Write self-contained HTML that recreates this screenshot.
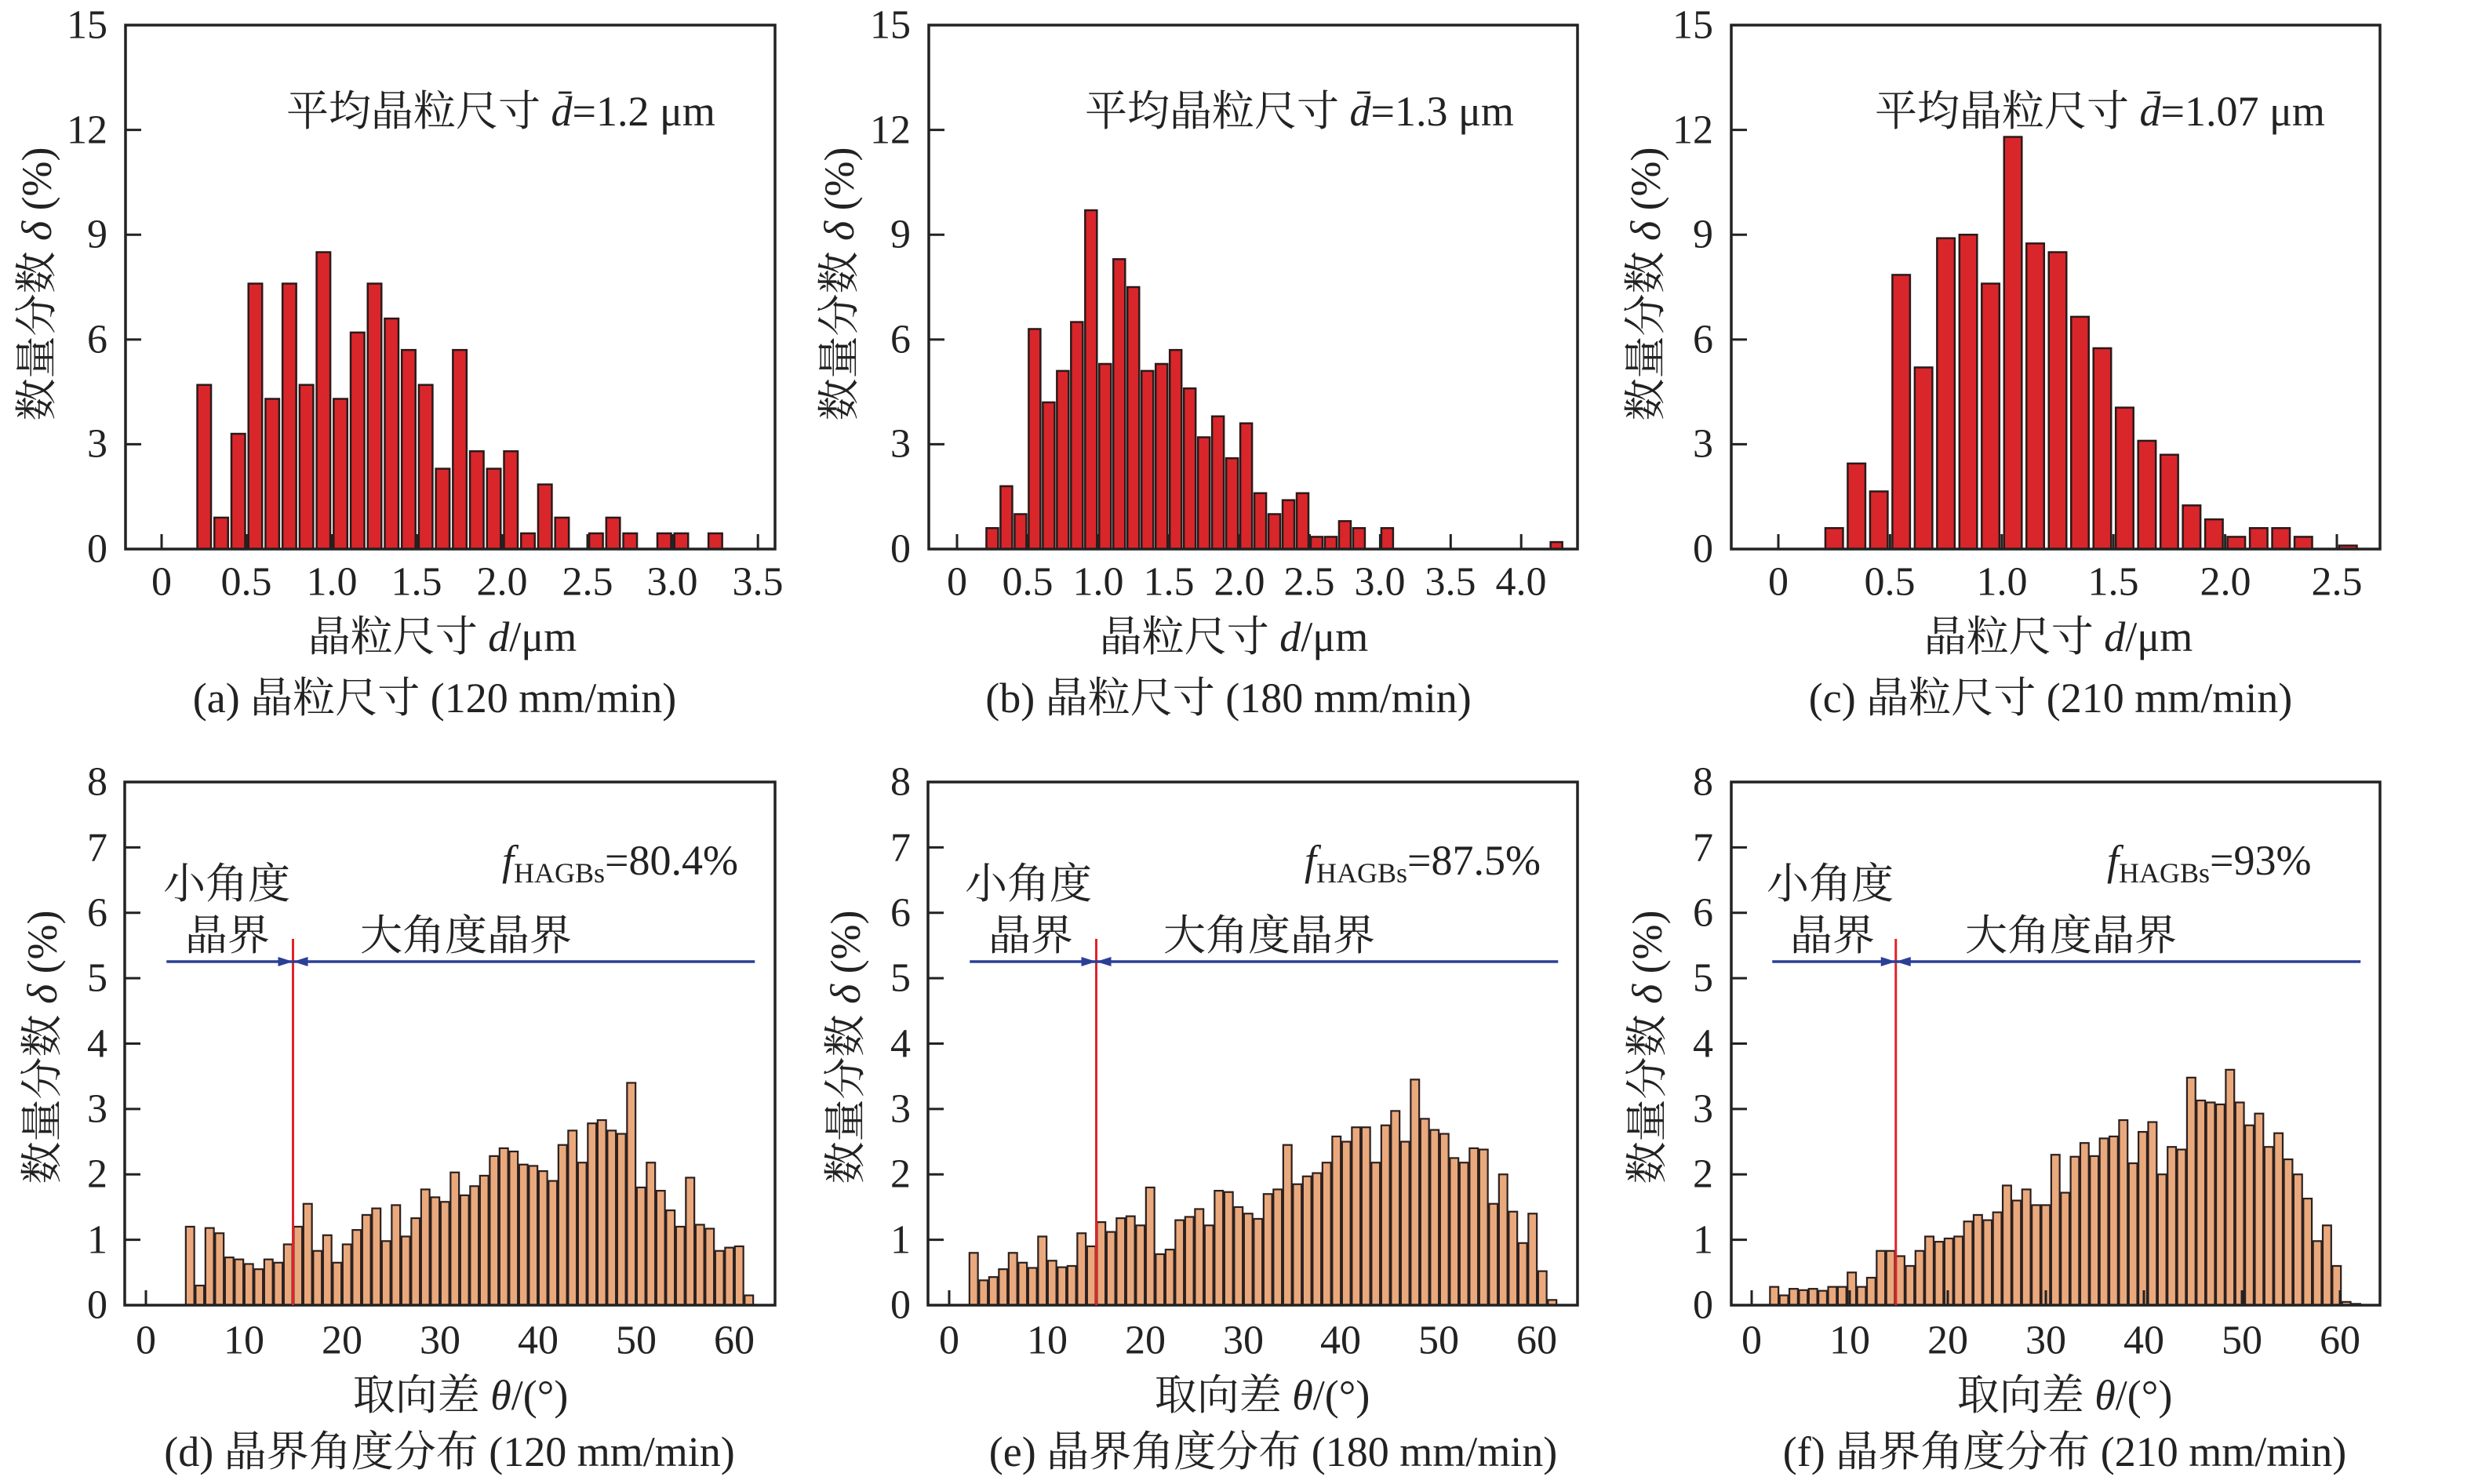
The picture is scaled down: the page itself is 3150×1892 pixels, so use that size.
<!DOCTYPE html>
<html><head><meta charset="utf-8">
<style>
html,body{margin:0;padding:0;background:#fff;}
svg{display:block;}
text{font-family:"Liberation Serif","Noto Serif CJK SC",serif;fill:#222;}
</style></head>
<body>
<svg id="s" width="3150" height="1892" viewBox="0 0 3150 1892" xmlns="http://www.w3.org/2000/svg">
<g id="bars"></g>
<g id="frames"></g>

<g font-size="52" text-anchor="end" dominant-baseline="central">
<text x="137" y="700">0</text><text x="137" y="566">3</text><text x="137" y="433">6</text><text x="137" y="299">9</text><text x="137" y="166">12</text><text x="137" y="32">15</text>
<text x="1161" y="700">0</text><text x="1161" y="566">3</text><text x="1161" y="433">6</text><text x="1161" y="299">9</text><text x="1161" y="166">12</text><text x="1161" y="32">15</text>
<text x="2184" y="700">0</text><text x="2184" y="566">3</text><text x="2184" y="433">6</text><text x="2184" y="299">9</text><text x="2184" y="166">12</text><text x="2184" y="32">15</text>
</g>
<g font-size="52" text-anchor="middle" dominant-baseline="central">
<text x="206" y="742">0</text><text x="314" y="742">0.5</text><text x="423" y="742">1.0</text><text x="531" y="742">1.5</text><text x="640" y="742">2.0</text><text x="749" y="742">2.5</text><text x="857" y="742">3.0</text><text x="966" y="742">3.5</text>
<text x="1220" y="742">0</text><text x="1310" y="742">0.5</text><text x="1400" y="742">1.0</text><text x="1490" y="742">1.5</text><text x="1580" y="742">2.0</text><text x="1669" y="742">2.5</text><text x="1759" y="742">3.0</text><text x="1849" y="742">3.5</text><text x="1939" y="742">4.0</text>
<text x="2267" y="742">0</text><text x="2409" y="742">0.5</text><text x="2552" y="742">1.0</text><text x="2694" y="742">1.5</text><text x="2837" y="742">2.0</text><text x="2979" y="742">2.5</text>
</g>
<g font-size="54" text-anchor="middle" dominant-baseline="central">
<text x="564" y="812">晶粒尺寸 <tspan font-style="italic">d</tspan>/μm</text>
<text x="1573" y="812">晶粒尺寸 <tspan font-style="italic">d</tspan>/μm</text>
<text x="2624" y="812">晶粒尺寸 <tspan font-style="italic">d</tspan>/μm</text>
<text x="554" y="890">(a) 晶粒尺寸 (120 mm/min)</text>
<text x="1566" y="890">(b) 晶粒尺寸 (180 mm/min)</text>
<text x="2614" y="890">(c) 晶粒尺寸 (210 mm/min)</text>
</g>
<g font-size="54" dominant-baseline="central">
<text x="365" y="142">平均晶粒尺寸 <tspan font-style="italic">d̄</tspan>=1.2 μm</text>
<text x="1383" y="142">平均晶粒尺寸 <tspan font-style="italic">d̄</tspan>=1.3 μm</text>
<text x="2390" y="142">平均晶粒尺寸 <tspan font-style="italic">d̄</tspan>=1.07 μm</text>
</g>
<g font-size="54" text-anchor="middle" dominant-baseline="central">
<text transform="translate(47,362) rotate(-90)">数量分数 <tspan font-style="italic">δ</tspan> (%)</text>
<text transform="translate(1070,362) rotate(-90)">数量分数 <tspan font-style="italic">δ</tspan> (%)</text>
<text transform="translate(2098,362) rotate(-90)">数量分数 <tspan font-style="italic">δ</tspan> (%)</text>
<text transform="translate(54,1335) rotate(-90)">数量分数 <tspan font-style="italic">δ</tspan> (%)</text>
<text transform="translate(1078,1335) rotate(-90)">数量分数 <tspan font-style="italic">δ</tspan> (%)</text>
<text transform="translate(2100,1335) rotate(-90)">数量分数 <tspan font-style="italic">δ</tspan> (%)</text>
</g>
<g font-size="52" text-anchor="end" dominant-baseline="central">
<text x="137" y="1664">0</text><text x="137" y="1581">1</text><text x="137" y="1497">2</text><text x="137" y="1414">3</text><text x="137" y="1331">4</text><text x="137" y="1247">5</text><text x="137" y="1164">6</text><text x="137" y="1081">7</text><text x="137" y="997">8</text>
<text x="1161" y="1664">0</text><text x="1161" y="1581">1</text><text x="1161" y="1497">2</text><text x="1161" y="1414">3</text><text x="1161" y="1331">4</text><text x="1161" y="1247">5</text><text x="1161" y="1164">6</text><text x="1161" y="1081">7</text><text x="1161" y="997">8</text>
<text x="2184" y="1664">0</text><text x="2184" y="1581">1</text><text x="2184" y="1497">2</text><text x="2184" y="1414">3</text><text x="2184" y="1331">4</text><text x="2184" y="1247">5</text><text x="2184" y="1164">6</text><text x="2184" y="1081">7</text><text x="2184" y="997">8</text>
</g>
<g font-size="52" text-anchor="middle" dominant-baseline="central">
<text x="186" y="1709">0</text><text x="311" y="1709">10</text><text x="436" y="1709">20</text><text x="561" y="1709">30</text><text x="686" y="1709">40</text><text x="811" y="1709">50</text><text x="936" y="1709">60</text>
<text x="1210" y="1709">0</text><text x="1335" y="1709">10</text><text x="1460" y="1709">20</text><text x="1585" y="1709">30</text><text x="1709" y="1709">40</text><text x="1834" y="1709">50</text><text x="1959" y="1709">60</text>
<text x="2233" y="1709">0</text><text x="2358" y="1709">10</text><text x="2483" y="1709">20</text><text x="2608" y="1709">30</text><text x="2733" y="1709">40</text><text x="2858" y="1709">50</text><text x="2983" y="1709">60</text>
</g>
<g font-size="54" text-anchor="middle" dominant-baseline="central">
<text x="587" y="1779">取向差 <tspan font-style="italic">θ</tspan>/(°)</text>
<text x="1609" y="1779">取向差 <tspan font-style="italic">θ</tspan>/(°)</text>
<text x="2632" y="1779">取向差 <tspan font-style="italic">θ</tspan>/(°)</text>
<text x="573" y="1851">(d) 晶界角度分布 (120 mm/min)</text>
<text x="1623" y="1851">(e) 晶界角度分布 (180 mm/min)</text>
<text x="2632" y="1851">(f) 晶界角度分布 (210 mm/min)</text>
</g>
<g font-size="54" dominant-baseline="central">
<text x="208" y="1127">小角度</text><text x="236" y="1193">晶界</text><text x="459" y="1193">大角度晶界</text>
<text x="1230" y="1127">小角度</text><text x="1260" y="1193">晶界</text><text x="1483" y="1193">大角度晶界</text>
<text x="2252" y="1127">小角度</text><text x="2282" y="1193">晶界</text><text x="2505" y="1193">大角度晶界</text>
</g>
<g font-size="54">
<text x="640" y="1115"><tspan font-style="italic">f</tspan><tspan font-size="36" dy="10">HAGBs</tspan><tspan dy="-10">=80.4%</tspan></text>
<text x="1663" y="1115"><tspan font-style="italic">f</tspan><tspan font-size="36" dy="10">HAGBs</tspan><tspan dy="-10">=87.5%</tspan></text>
<text x="2686" y="1115"><tspan font-style="italic">f</tspan><tspan font-size="36" dy="10">HAGBs</tspan><tspan dy="-10">=93%</tspan></text>
</g>
<g id="marks"></g>
</svg>
<script>
var NS="http://www.w3.org/2000/svg";
function el(p,t,a){var e=document.createElementNS(NS,t);for(var k in a)e.setAttribute(k,a[k]);p.appendChild(e);return e;}
var B=document.getElementById('bars'),F=document.getElementById('frames'),M=document.getElementById('marks');
function topP(left,right,x0,pu,ticks,start,vals,w){
  vals.forEach(function(v,i){if(v<=0)return;var c=x0+(start+0.1*i)*pu;var h=v*44.53;
    el(B,'rect',{x:c-w/2,y:700-h,width:w,height:h,fill:'#d9262b',stroke:'#2a1a1a','stroke-width':2.5});});
  el(F,'rect',{x:left,y:32,width:right-left,height:668,fill:'none',stroke:'#222','stroke-width':3.5});
  [3,6,9,12].forEach(function(v){var y=700-v*44.53;el(F,'line',{x1:left,x2:left+20,y1:y,y2:y,stroke:'#222','stroke-width':3});});
  ticks.forEach(function(t){var x=x0+t*pu;el(F,'line',{x1:x,x2:x,y1:700,y2:681,stroke:'#222','stroke-width':3});});
}
function botP(left,right,x0,start,step,vals,lx){
  vals.forEach(function(v,i){var c=x0+(start+step*i)*12.5;var h=v*83.375;
    el(B,'rect',{x:c-5.4,y:1664-h,width:10.8,height:h,fill:'#eaa97c',stroke:'#2a2020','stroke-width':2.2});});
  el(F,'rect',{x:left,y:997,width:right-left,height:667,fill:'none',stroke:'#222','stroke-width':3.5});
  for(var v=1;v<8;v++){var y=1664-v*83.375;el(F,'line',{x1:left,x2:left+20,y1:y,y2:y,stroke:'#222','stroke-width':3});}
  for(var t=0;t<=60;t+=10){var x=x0+t*12.5;el(F,'line',{x1:x,x2:x,y1:1664,y2:1645,stroke:'#222','stroke-width':3});}
  var rx=x0+lx*12.5;
  el(M,'line',{x1:rx,x2:rx,y1:1197,y2:1664,stroke:'#e0232b','stroke-width':3});
  el(M,'line',{x1:x0+2.1*12.5,x2:x0+62.1*12.5,y1:1226,y2:1226,stroke:'#2b3f96','stroke-width':3.5});
  el(M,'polygon',{points:(rx-19)+',1220 '+rx+',1226 '+(rx-19)+',1232',fill:'#2b3f96'});
  el(M,'polygon',{points:(rx+19)+',1220 '+rx+',1226 '+(rx+19)+',1232',fill:'#2b3f96'});
}
topP(160,988,206,217.2,[0,0.5,1,1.5,2,2.5,3,3.5],0.25,
 [4.7,0.9,3.3,7.6,4.3,7.6,4.7,8.5,4.3,6.2,7.6,6.6,5.7,4.7,2.3,5.7,2.8,2.3,2.8,0.45,1.85,0.9,0,0.45,0.9,0.45,0,0.45,0.45,0,0.45],17.5);
var bv=[0.6,1.8,1.0,6.3,4.2,5.1,6.5,9.7,5.3,8.3,7.5,5.1,5.3,5.7,4.6,3.2,3.8,2.6,3.6,1.6,1.0,1.4,1.6,0.35,0.35,0.8,0.6,0,0.6];
for(var i=bv.length;i<40;i++)bv.push(0);bv.push(0.2);
topP(1184,2011,1220,179.8,[0,0.5,1,1.5,2,2.5,3,3.5,4],0.25,bv,15);
topP(2207,3034,2267,284.8,[0,0.5,1,1.5,2,2.5],0.25,
 [0.6,2.45,1.65,7.85,5.2,8.9,9.0,7.6,11.8,8.75,8.5,6.65,5.75,4.05,3.1,2.7,1.25,0.85,0.35,0.6,0.6,0.35,0,0.1],22.5);
botP(159,988,186,4.5,1,[1.2,0.3,1.18,1.1,0.73,0.7,0.63,0.55,0.7,0.65,0.93,1.2,1.55,0.83,1.07,0.65,0.93,1.15,1.38,1.48,0.98,1.53,1.05,1.33,1.77,1.65,1.58,2.03,1.68,1.82,1.98,2.28,2.4,2.35,2.15,2.13,2.05,1.9,2.45,2.67,2.18,2.78,2.83,2.67,2.62,3.4,1.8,2.18,1.75,1.45,1.2,1.95,1.23,1.17,0.83,0.88,0.9,0.15],15);
botP(1183,2011,1210,2.5,1,[0.8,0.38,0.43,0.55,0.8,0.65,0.57,1.05,0.68,0.58,0.6,1.1,0.9,1.27,1.12,1.33,1.36,1.22,1.8,0.78,0.85,1.3,1.35,1.47,1.22,1.75,1.73,1.5,1.4,1.32,1.7,1.77,2.45,1.85,1.97,2.02,2.18,2.58,2.5,2.72,2.72,2.18,2.75,2.97,2.5,3.45,2.85,2.68,2.62,2.25,2.18,2.4,2.38,1.55,2.0,1.43,0.95,1.4,0.52,0.08],15);
botP(2207,3034,2233,2.3,0.989,[0.28,0.15,0.25,0.23,0.25,0.22,0.28,0.28,0.5,0.28,0.42,0.83,0.83,0.75,0.6,0.83,1.05,0.97,1.02,1.05,1.28,1.38,1.3,1.42,1.83,1.6,1.77,1.53,1.53,2.3,1.72,2.27,2.48,2.28,2.55,2.58,2.83,2.17,2.65,2.8,2.0,2.42,2.38,3.48,3.13,3.1,3.07,3.6,3.1,2.75,2.93,2.42,2.63,2.23,2.0,1.63,0.98,1.22,0.6,0.05,0.02],14.7);
</script>
</body></html>
